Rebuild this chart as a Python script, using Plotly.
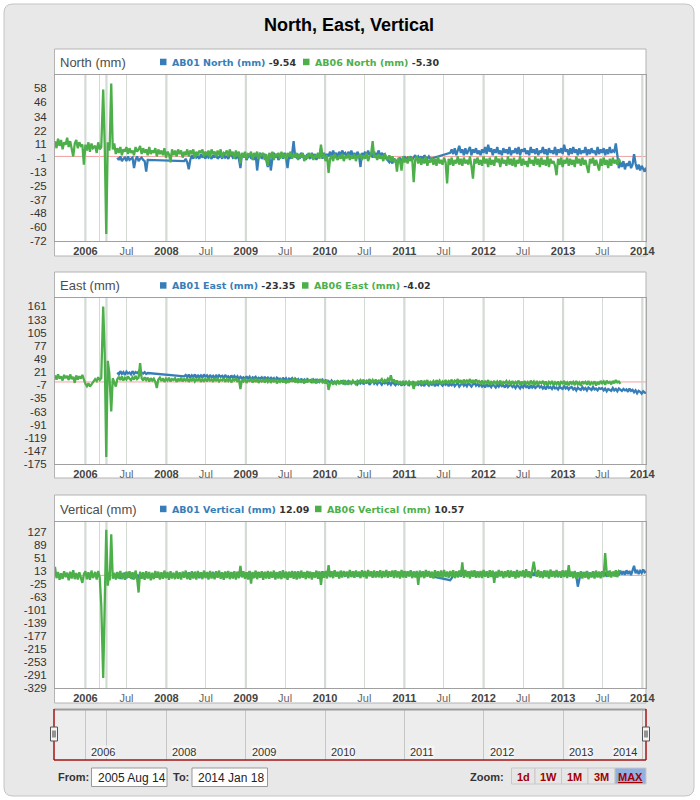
import pandas as pd
import plotly.graph_objects as go

# ---------------- data (weekly readings, mm) ----------------
START_DATE = "2005-08-14"
END_DATE = "2014-01-18"
SAMPLE_EVERY = "7D"
DATA_GAPS = [["2006-02-10", "2006-06-06"], ["2006-07-15", "2006-12-14"], ["2007-01-15", "2007-04-14"]]
N = None

north_ab06 = [13, 7, 15, 9, 14, 6, 12, 10, 16, 8, 13, 5, 0, 11, 14, 7, 12, 9, 10, -7,
              10, 5, 12, 4, 11, 7, 9, 3, 12, 6, 8, 57, 10, -66, 12, 5, 9, 62, 6, 11,
              2, 7, 3, 8, 1, 6, 4, 8, 2, 7, 3, 5, 1, 8, 4, 6, 9, 2, 7, 3,
              6, 1, 8, 2, 5, 3, 7, 0, 6, 2, 5, 1, 7, -1, 4, 2, -5, 6, 1, 5,
              0, 6, 2, 5, -1, 4, 1, 6, 0, 5, 2, 6, -1, 4, 1, 5, 3, 6, 0, 4,
              1, 5, -1, 6, 2, 4, 0, 5, 1, 6, -1, 3, 2, 5, 0, 6, 1, 4, -2, 5,
              0, 4, -6, 3, -1, 4, -2, 2, 1, 4, -3, 3, 0, 4, -2, 2, 1, 3, -3, 2,
              -8, 3, -1, 4, -3, 2, 0, 3, -2, 4, -1, 2, -3, 3, 0, 4, -2, 2, -1, 3,
              -3, 2, -1, 3, -4, 1, -2, 3, 0, 2, -3, 1, -1, 3, -2, 10, -1, 2, -4, 1,
              -14, -2, 1, -4, 2, -1, -3, 1, -2, 2, -4, 0, -1, 2, -3, 1, -2, 2, -4, 1,
              -1, 2, -3, 1, -2, 3, -4, 0, 2, 13, -1, 1, -3, 2, -2, 1, -4, 2, 0, -3,
              1, -4, 0, -5, -2, -13, -1, -4, -12, 0, -5, -2, -6, 0, -4, -1, -22, -3, 0, -6,
              -1, -7, -2, -6, 0, -8, -3, -5, -1, -7, -2, -8, 0, -6, -3, -7, -1, -5, -23, -2,
              -7, -1, -8, -3, -6, 0, -7, -2, -8, -1, -6, -3, -7, 0, -8, -19, -2, -6, -1, -7,
              -3, -8, 0, -6, -2, -9, -1, -7, -3, -8, 0, -5, -2, -9, -1, -6, -3, -8, 0, -7,
              -2, -8, -1, -9, -3, -6, 0, -8, -2, -7, -4, -9, -1, -6, -3, -8, 0, -7, -2, -9,
              -1, -7, -3, -8, 0, -9, -2, -6, -4, -8, -16, -2, -7, -1, -9, -3, -6, -1, -8, -2,
              -7, -3, -9, 0, -6, -2, -8, -1, -7, -3, -9, -14, -2, -6, -1, -8, -3, -7, -12, -2,
              -8, -1, -7, -3, -10, -2, -8, -1, -6, -3, -7, -2, -5.30]
north_ab01 = [-1, -3, 0, -4, -2, -1, -4, 0, -3, -2, -1, -10, -3, 0, -4, -2, -1, -3, -4,
              -13, -3, N, N, N, N, N, N, N, N, N, N, N, N, N, N, N, N, N, N,
              N, N, N, N, N, -4, -2, -5, -11, -3, 1, -2, 2, -1, 0, -2, 2, -1, 1, -2,
              2, -1, 0, -2, 1, -1, 2, -2, 0, 1, -2, 2, -1, 0, -2, 1, 2, -1, 0, -2,
              1, -2, -10, 2, -1, 3, -3, 0, 2, -2, 1, -3, 2, -12, -1, 3, -2, 0, 2, -3,
              -9, 1, -12, -2, 3, -1, 2, -3, 0, 2, -2, 3, -1, -10, 1, -2, 2, 13, 0, -1,
              2, -2, 3, -1, 1, -3, 2, 0, -2, 3, -1, 2, -3, 1, 0, 7, -2, 3, -1, 2,
              0, 4, -1, 5, 1, 3, -1, 4, 0, 5, 2, 3, -1, 4, 1, 5, 0, 3, -1, 4,
              1, -9, 3, 0, 4, -1, 5, 1, 3, -1, 4, 0, 2, 5, -1, 3, 1, 2, -2, -4,
              -5, -3, -6, -2, -4, -5, -3, -1, -4, -2, 0, -3, -1, -2, 0, -3, -1, 1, -2, 0,
              -2, 0, -3, 1, -1, -2, 0, -2, N, N, N, N, N, N, N, N, N, N, N, N,
              3, 6, 2, 7, 1, 5, 9, 3, 6, 1, 7, 2, 5, 8, 1, 6, 3, 7, 2, 5,
              1, 6, 3, 8, 2, 10, 4, 7, 1, 6, 3, 8, 2, 5, 1, 7, 3, 6, 2, 8,
              1, 5, 3, 7, 2, 8, 1, 6, 4, 7, 2, 5, 1, 8, 3, 6, 2, 7, 1, 5,
              3, 8, 2, 6, 1, 7, 3, 5, 2, 8, 1, 6, 3, 7, 2, 10, 4, 6, 1, 7,
              2, 8, 3, 6, 1, 7, 2, 5, 3, 8, 1, 6, 2, 7, 3, 5, 1, 8, 2, 6,
              3, 7, 1, 6, 2, 8, 3, 5, 4, 11, 1, -10, -5, -9, -4, -11, -6, -8, -4, -10,
              -7, 2, -6, -11, -7, -12, -8, -10, -13, -9.54]

east_ab06 = [14, 5, 16, 7, 12, 3, 15, 8, 13, 4, 16, 6, 11, -2, 14, 5, 12, 7, 15, 4,
             -4, -9, -3, -10, -5, -2, 6, 2, 10, 4, 8, 161, 60, -160, 45, 20, 5, -63, 8, 0,
             -10, 6, 11, 4, 12, 3, 9, 5, 12, 7, 4, 10, 5, 13, 6, 9, 40, 8, 3, 10,
             4, 9, 1, 8, 3, 7, 0, -13, 5, 9, 2, 8, 0, 7, 3, 9, 1, 6, 4, 8,
             0, 7, 2, 9, 1, 6, 3, 8, 0, 7, 2, 9, 1, 5, 3, 8, 0, 6, 2, 7,
             1, 8, 3, 6, 0, 9, 2, 7, 1, 5, 3, 8, 0, 6, 2, 7, -1, 5, 3, 8,
             0, 6, -15, 5, 1, 7, -2, 4, 2, 6, -1, 5, 0, 7, -2, 4, 1, 6, -1, 5,
             0, 6, -2, 4, 1, 5, -3, 3, 0, 6, -1, 4, -3, 5, 0, 3, 2, 8, -1, 4,
             -2, 5, 0, 3, -3, 6, -1, 4, 1, 5, -2, 3, -3, 4, 0, 6, -1, 2, -3, 5,
             -17, -4, 2, -6, 0, -3, 3, -5, 1, -2, 4, -4, 0, -6, 2, -3, 3, -1, -5, 2,
             -2, 4, 0, 5, -3, 3, 1, 6, -1, 4, -2, 5, 0, 3, 2, 6, -1, 4, 1, 7,
             2, 14, 0, 5, -2, 3, -4, 1, -6, 2, -3, 0, -5, 1, -4, -1, -15, 0, -6, 2,
             -3, 3, -5, 1, -2, 4, -6, 0, -3, 2, -4, 4, -1, 3, -5, 1, -2, 4, -3, 2,
             -1, 5, -3, 3, 0, 6, -2, 4, -4, 5, -1, 3, 0, 6, -3, 4, -2, 5, 0, 2,
             -3, 3, -5, 1, -2, 4, -6, 0, -3, 2, -5, 1, -4, 3, -6, 0, -2, 2, -5, 1,
             -4, 2, -6, 0, -3, 3, -7, 1, -5, 2, -4, 0, -6, 3, -3, 1, -7, 2, -5, 0,
             -3, 2, -6, 1, -8, 0, -4, 2, -7, -1, -5, 1, -8, 0, -3, 2, -6, -1, -7, 1,
             -4, 0, -7, 2, -5, -1, -8, 1, -3, 0, -6, 2, -7, -1, -4, 1, -8, 0, -5, 2,
             -3, 1, -6, 3, -2, 0, -5, 2, -3, 4, -1, 1, -4.02]
east_ab01 = [20, 16, 23, 17, 21, 15, 22, 18, 20, 16, 23, 17, 21, 19, 22, 16, 20, 18, 21,
             17, 19, N, N, N, N, N, N, N, N, N, N, N, N, N, N, N, N, N, N,
             N, N, N, N, N, 12, 15, 10, 16, 9, 14, 11, 16, 8, 15, 10, 14, 9, 16, 11,
             14, 8, 15, 10, 13, 7, 15, 9, 14, 11, 13, 8, 15, 10, 12, 7, 14, 9, 13, 8,
             12, 6, 11, 8, 10, 5, 12, 7, 11, 4, 10, 8, 11, 5, 9, 7, 10, 4, 11, 6,
             9, 3, 10, 5, 8, 2, 9, 6, 7, 1, 9, 4, 8, 2, 7, 5, 8, 1, 7, 3,
             6, 0, 7, 2, 5, -1, 6, 3, 4, -2, 5, 1, 6, -1, 4, 2, 5, -2, 3, 0,
             2, -3, 3, -1, 1, -4, 2, 0, -2, 3, -5, 1, -3, 2, -1, -4, 1, -2, 0, -5,
             1, -3, 2, -5, 0, -2, 1, -6, -1, 2, -4, 0, -5, 1, -2, -6, 0, -3, 1, -5,
             -1, -6, 0, -4, -7, -2, -5, -1, -8, -3, -6, 0, -4, -7, -2, -5, -1, -8, -3, -6,
             -2, -7, -4, -9, -1, -5, -8, -3, -6, -2, -9, -4, -7, -1, -5, -8, -3, -6, -2, -9,
             -4, -7, -2, -9, -5, -3, -10, -6, -2, -8, -4, -9, -3, -6, -10, -5, -2, -8, -4, -9,
             -5, -10, -6, -12, -4, -9, -7, -11, -5, -8, -12, -6, -10, -4, -9, -7, -12, -5, -11, -8,
             -6, -11, -8, -13, -7, -10, -14, -8, -12, -6, -11, -9, -14, -7, -12, -8, -13, -10, -7, -12,
             -9, -14, -10, -16, -8, -13, -11, -15, -9, -14, -12, -16, -10, -13, -15, -9, -14, -11, -16, -12,
             -11, -16, -13, -18, -12, -15, -17, -11, -16, -13, -18, -12, -15, -17, -11, -16, -14, -18, -13, -15,
             -13, -18, -14, -20, -15, -17, -19, -13, -18, -15, -20, -14, -17, -19, -15, -18, -16, -21, -14, -19,
             -17, -22, -18, -24, -19, -21, -25, -20, -23, -23.35]

vertical_ab06 = [25, -8, 10, -13, 6, -10, 12, -5, 8, -14, 11, -9, 15, -11, 7, -12, 9, -6, -22, 4,
                 12, -11, 9, -13, 14, -8, 10, -12, 13, -6, -85, -300, -40, 133, -30, 10, -15, 120, -10, 8,
                 -12, 10, -9, 13, -11, 8, -13, 11, -7, 12, -10, 9, -12, 14, -8, -50, 11, -10, 9, -13,
                 12, -9, 10, -14, 8, -11, 13, -7, 11, -12, 9, -10, 14, -8, 10, -13, 12, -9, 8, -11,
                 13, -10, 9, -12, 11, -7, 14, -11, 8, -13, 12, -9, 10, -12, 13, -6, 9, -11, 14, -8,
                 10, -12, 13, -9, 8, -11, 12, -7, 14, -10, 9, -13, 11, -8, 13, -11, 10, -9, 12, -12,
                 11, -8, 28, -6, 12, -10, 9, -12, 13, -24, 10, -8, 14, -11, 9, -7, 12, -13, 11, -9,
                 13, -10, 10, -7, 14, -12, 9, -9, 12, -11, 15, -8, 10, -13, 11, -6, 13, -10, 9, -12,
                 12, -9, 14, -7, 10, -11, 13, -8, 11, -12, 9, -6, 14, -10, 12, -28, 10, -7, 13, -9,
                 30, -5, 12, -8, 15, -4, 11, -9, 14, -6, 13, -3, 10, -8, 16, -5, 12, -7, 14, -4,
                 11, -8, 15, -5, 13, -9, 16, -3, 12, -7, 14, -6, 11, -4, 15, -8, 13, -5, 16, -7,
                 12, -4, 14, -8, 15, -6, 11, -9, 16, -5, 13, -7, 12, -3, 15, -8, 10, -6, 13, -28,
                 14, -5, 12, -8, 16, -4, 13, -7, 11, -9, 15, -3, 12, -6, 14, -8, 16, -5, 11, -7,
                 13, -4, 15, -8, 12, -6, 14, -3, 38, -7, 16, -5, 12, -9, 14, -4, 15, -7, 11, -6,
                 13, -8, 16, -4, 12, -7, 15, -5, 14, -22, 11, -6, 16, -3, 13, -8, 12, -5, 15, -7,
                 14, -4, 12, -9, 16, -6, 13, -3, 15, -7, 18, -5, 12, -8, 14, 40, 13, -4, 16, -6,
                 12, -8, 15, -5, 14, -9, 17, -4, 13, -6, 16, -3, 12, -7, 15, -5, 14, -8, 30, -4,
                 11, -8, 13, -10, 9, -6, 12, -9, 10, -7, 13, -11, 8, -5, 12, -9, 14, -6, 10, -8,
                 12, -5, 65, 8, -4, 14, -6, 11, -3, 15, -5, 13, 10.57]
vertical_ab01 = [-8, 6, -10, 4, -7, 8, -9, 3, -6, 7, -11, 5, -8, 2, -10, 6, -7, 4, -9,
                 2, -5, N, N, N, N, N, N, N, N, N, N, N, N, N, N, N, N, N, N,
                 N, N, N, N, N, 0, 7, -6, 9, -4, 8, -7, 10, -3, 6, -8, 9, -5, 7, -2,
                 9, -6, 8, -3, 10, -7, 6, -4, 9, -2, 7, -6, 10, -5, 8, -3, 9, -7, 6, -1,
                 8, -5, 10, -2, 7, -6, 9, -3, 11, -4, 6, -7, 8, -1, 10, -5, 7, -3, 9, -6,
                 8, -2, 10, -5, 7, -1, 9, -6, 11, -3, 8, -4, 10, -2, 7, -6, 9, -1, 11, -4,
                 7, -3, 10, -5, 8, -1, 11, -4, 9, -2, 7, -6, 10, -3, 8, -1, 12, -5, 9, -2,
                 10, -4, 8, -1, 12, -3, 9, -5, 11, 0, 8, -4, 10, -2, 12, -3, 9, -1, 11, -4,
                 8, -2, 12, -1, 10, -4, 9, 0, 11, -3, 8, -2, 12, -5, 10, -1, 9, -3, 11, 0,
                 10, -4, 12, -1, 9, -3, 11, 0, 8, -5, 12, -2, 10, -1, 9, -4, 11, -2, 10, -3,
                 9, -1, 11, -3, 10, 0, 12, -2, N, N, N, N, N, N, N, N, N, N, N, N,
                 -14, -8, 6, -3, 10, -1, 8, -4, 11, 0, 9, -2, 12, -3, 10, -1, 8, -5, 11, 0,
                 9, -3, 12, -1, 10, -4, 8, 0, 11, -2, 9, -5, 12, -1, 10, -3, 8, 0, 11, -4,
                 10, -2, 12, -1, 9, -4, 11, 0, 8, -3, 12, -2, 10, -5, 9, -1, 11, -3, 10, 0,
                 8, -4, 11, -2, 10, -6, 9, -1, 12, -3, 8, -5, 10, -2, 11, 0, 9, -4, 10, -1,
                 8, -3, 11, -2, -33, -5, 10, -1, 9, -4, 12, -2, 8, -5, 11, -1, 9, -3, 10, -2,
                 11, -1, 9, -4, 12, -2, 8, 0, 10, -3, 11, 1, 14, 3, 12, 2, 15, 4, 13, 1,
                 14, 28, 6, 16, 4, 13, 7, 17, 9, 12.09]

panel_titles = ["North (mm)", "East (mm)", "Vertical (mm)"]
ab01_names = ["AB01 North (mm)", "AB01 East (mm)", "AB01 Vertical (mm)"]
ab06_names = ["AB06 North (mm)", "AB06 East (mm)", "AB06 Vertical (mm)"]

x_tick_dates = ["2006-01-01", "2006-07-01", "2007-01-01", "2007-07-01", "2008-01-01", "2008-07-01",
                "2009-01-01", "2009-07-01", "2010-01-01", "2010-07-01", "2011-01-01", "2011-07-01",
                "2012-01-01", "2012-07-01", "2013-01-01", "2013-07-01", "2014-01-01"]
x_tick_labels = ["2006", "", "", "Jul", "2008", "Jul", "2009", "Jul", "2010", "Jul", "2011", "Jul",
                 "2012", "Jul", "2013", "Jul", "2014"]
year_dates = ["2006-01-01", "2007-01-01", "2008-01-01", "2009-01-01", "2010-01-01", "2011-01-01",
              "2012-01-01", "2013-01-01", "2014-01-01"]
nav_labels = ["2006", "", "2008", "2009", "2010", "2011", "2012", "2013", "2014"]

north_ticks = [58, 46, 34, 22, 11, -1, -13, -25, -37, -48, -60, -72]
east_ticks = [161, 133, 105, 77, 49, 21, -7, -35, -63, -91, -119, -147, -175]
vertical_ticks = [127, 89, 51, 13, -25, -63, -101, -139, -177, -215, -253, -291, -329]

from_text = "2005 Aug 14"
to_text = "2014 Jan 18"
zoom_buttons = ["1d", "1W", "1M", "3M", "MAX"]

# ---------------- build ----------------
grid = pd.date_range(START_DATE, END_DATE, freq=SAMPLE_EVERY)
gaps = [(pd.Timestamp(a), pd.Timestamp(b)) for a, b in DATA_GAPS]
dates = [d for d in grid if not any(a <= d <= b for a, b in gaps)]
if dates[-1] != pd.Timestamp(END_DATE):
    dates.append(pd.Timestamp(END_DATE))

BLUE = "#377EB8"
GREEN = "#4DAF4A"
W, H = 700, 800
LW = 2.3


def X(px):
    return px / W


def Y(py):
    return 1 - py / H


fig = go.Figure()

panels = [
    (north_ab01, north_ab06, north_ticks, [-72, 69.3], (75, 241), (49, 256)),
    (east_ab01, east_ab06, east_ticks, [-175, 179], (298, 464), (272, 478)),
    (vertical_ab01, vertical_ab06, vertical_ticks, [-329, 156], (522, 688), (495, 703)),
]

rb = [dict(bounds=g) for g in DATA_GAPS]
x_range = [START_DATE, END_DATE]
tick_text_fmt = [("<span style='color:#666666'>Jul</span>" if t == "Jul" else (f"<b>{t}</b>" if t else ""))
                 for t in x_tick_labels]

shapes = []
annotations = []

x0, y0, x1, y1, r = 4, 4, 694, 796, 9
path = (f"M {X(x0+r)},{Y(y0)} L {X(x1-r)},{Y(y0)} Q {X(x1)},{Y(y0)} {X(x1)},{Y(y0+r)} "
        f"L {X(x1)},{Y(y1-r)} Q {X(x1)},{Y(y1)} {X(x1-r)},{Y(y1)} L {X(x0+r)},{Y(y1)} "
        f"Q {X(x0)},{Y(y1)} {X(x0)},{Y(y1-r)} L {X(x0)},{Y(y0+r)} Q {X(x0)},{Y(y0)} {X(x0+r)},{Y(y0)} Z")
shapes.append(dict(type="path", xref="paper", yref="paper", path=path, fillcolor="#E8E8E8",
                   line=dict(color="#C4C4C4", width=1), layer="below"))

annotations.append(dict(text="<b>North, East, Vertical</b>", x=X(349), y=Y(25), xref="paper", yref="paper",
                        showarrow=False, xanchor="center", yanchor="middle",
                        font=dict(family="Liberation Sans, Arial", size=18, color="#000000")))

legend_pos = [(62, 303), (285.5, 302), (509, 315)]

for k, (b, g, yt, yr, (pt, pb), (bt, bb)) in enumerate(panels):
    n = "" if k == 0 else str(k + 1)
    xa, ya = "x" + n, "y" + n
    fig.add_trace(go.Scatter(x=dates[len(dates) - len(b):], y=b, mode="lines",
                             line=dict(color=BLUE, width=LW), connectgaps=True, xaxis=xa, yaxis=ya,
                             name=ab01_names[k], showlegend=False))
    fig.add_trace(go.Scatter(x=dates[:len(g)], y=g, mode="lines", line=dict(color=GREEN, width=LW),
                             connectgaps=True, xaxis=xa, yaxis=ya, name=ab06_names[k], showlegend=False))
    fig.layout["xaxis" + n] = dict(
        domain=[X(55), X(646)], anchor=ya, type="date", range=x_range, rangebreaks=rb,
        tickmode="array", tickvals=x_tick_dates, ticktext=tick_text_fmt, automargin=False,
        showgrid=True, gridcolor="#D4DAD4", gridwidth=1, ticks="", zeroline=False,
        showline=True, mirror=True, linecolor="#A0A0A0", linewidth=1,
        tickfont=dict(family="Liberation Sans, Arial", size=11, color="#444444"))
    fig.layout["yaxis" + n] = dict(
        domain=[Y(pb), Y(pt)], anchor=xa, range=yr, tickmode="array", tickvals=yt, automargin=False,
        ticktext=[str(t) for t in yt], showgrid=False, zeroline=False, ticks="",
        showline=True, mirror=True, linecolor="#A8A8A8", linewidth=1, ticklabelstandoff=5,
        tickfont=dict(family="Liberation Sans, Arial", size=11.5, color="#333333"))
    shapes.append(dict(type="rect", xref="paper", yref="paper", x0=X(54.5), x1=X(646), y0=Y(bb), y1=Y(bt),
                       fillcolor="white", line=dict(color="#B4B4B4", width=1), layer="below"))
    for yd in year_dates:
        shapes.append(dict(type="line", xref=xa, yref=ya + " domain", x0=yd, x1=yd, y0=0, y1=1,
                           line=dict(color="#D4DAD4", width=2.2), layer="below"))
    shapes.append(dict(type="line", xref=xa + " domain", yref=ya, x0=0, x1=1, y0=0, y1=0,
                       line=dict(color="#F2A0A0", width=1), layer="below"))
    ly, gx = legend_pos[k]
    annotations.append(dict(text=panel_titles[k], x=X(58), y=Y(ly), xref="paper", yref="paper",
                            showarrow=False, xanchor="left", yanchor="middle",
                            font=dict(family="Liberation Sans, Arial", size=13, color="#4D4D4D")))
    for sx, col, nm, vals in [(160, BLUE, ab01_names[k], b), (gx, GREEN, ab06_names[k], g)]:
        shapes.append(dict(type="rect", xref="paper", yref="paper", x0=X(sx), x1=X(sx + 6.5),
                           y0=Y(ly + 3.2), y1=Y(ly - 3.3), fillcolor=col, line=dict(width=0)))
        annotations.append(dict(text=f"<b><span style='color:{col}'>{nm}</span> {vals[-1]:.2f}</b>",
                                x=X(sx + 10), y=Y(ly), xref="paper", yref="paper", showarrow=False,
                                xanchor="left", yanchor="middle",
                                font=dict(family="DejaVu Sans, Verdana", size=9.5, color="#333333")))

# ---------------- navigator ----------------
fig.add_trace(go.Scatter(x=[dates[0]], y=[0.5], mode="markers", marker=dict(opacity=0), xaxis="x4",
                         yaxis="y4", showlegend=False, hoverinfo="skip"))
fig.layout["xaxis4"] = dict(
    domain=[X(55), X(646)], anchor="y4", type="date", range=x_range, rangebreaks=rb, automargin=False,
    tickmode="array", tickvals=year_dates, ticktext=[""] * len(year_dates), showgrid=True,
    gridcolor="#C6C6C6", gridwidth=1, ticks="", zeroline=False, showline=False, showticklabels=False)
fig.layout["yaxis4"] = dict(domain=[Y(760), Y(710)], anchor="x4", range=[0, 1], visible=False,
                            automargin=False)
for yd, lab in zip(year_dates, nav_labels):
    if not lab:
        continue
    last = yd == year_dates[-1]
    annotations.append(dict(text=lab, x=yd, xref="x4", y=Y(751.5), yref="paper", showarrow=False,
                            xanchor="right" if last else "left", xshift=-4 if last else 5,
                            yanchor="middle", bgcolor="rgba(248,248,248,0.7)", borderpad=0,
                            font=dict(family="Liberation Sans, Arial", size=11, color="#333333")))
shapes.append(dict(type="rect", xref="paper", yref="paper", x0=X(54), x1=X(646), y0=Y(760), y1=Y(709),
                   fillcolor="#EDEDED", line=dict(width=0), layer="below"))
shapes.append(dict(type="line", xref="paper", yref="paper", x0=X(54), x1=X(646), y0=Y(709.5), y1=Y(709.5),
                   line=dict(color="#9C9C9C", width=2)))
for (ax0, ay0, ax1, ay1) in [(54, 709, 54, 760), (54, 760, 646, 760), (646, 709, 646, 760)]:
    shapes.append(dict(type="line", xref="paper", yref="paper", x0=X(ax0), x1=X(ax1), y0=Y(ay0), y1=Y(ay1),
                       line=dict(color="#A31515", width=1.5)))
for hx in (54, 646):
    shapes.append(dict(type="rect", xref="paper", yref="paper", x0=X(hx - 3.5), x1=X(hx + 3.5),
                       y0=Y(741), y1=Y(727), fillcolor="#F4F4F4", line=dict(color="#555555", width=1)))
    for lx in (hx - 1, hx + 1):
        shapes.append(dict(type="line", xref="paper", yref="paper", x0=X(lx), x1=X(lx), y0=Y(737.5),
                           y1=Y(730.5), line=dict(color="#333333", width=1)))

# ---------------- range inputs & zoom buttons ----------------
lbl_font = dict(family="Liberation Sans, Arial", size=11, color="#333333")
annotations.append(dict(text="<b>From:</b>", x=X(56), y=Y(777), xref="paper", yref="paper", showarrow=False,
                        xanchor="left", yanchor="middle", font=lbl_font))
annotations.append(dict(text="<b>To:</b>", x=X(171), y=Y(777), xref="paper", yref="paper", showarrow=False,
                        xanchor="left", yanchor="middle", font=lbl_font))
for bx0, bx1, txt in [(91.5, 167, from_text), (192, 267.5, to_text)]:
    shapes.append(dict(type="rect", xref="paper", yref="paper", x0=X(bx0), x1=X(bx1), y0=Y(786.5), y1=Y(768),
                       fillcolor="white", line=dict(color="#999999", width=1)))
    annotations.append(dict(text=txt, x=X(bx0 + 4), y=Y(777.5), xref="paper", yref="paper", showarrow=False,
                            xanchor="left", yanchor="middle",
                            font=dict(family="Liberation Sans, Arial", size=12, color="#222222")))
annotations.append(dict(text="<b>Zoom:</b>", x=X(506), y=Y(776.5), xref="paper", yref="paper",
                        showarrow=False, xanchor="right", yanchor="middle", font=lbl_font))
btn_edges = [511.5, 535, 561.5, 588, 615, 646]
for i, lab in enumerate(zoom_buttons):
    sel = lab == "MAX"
    shapes.append(dict(type="rect", xref="paper", yref="paper", x0=X(btn_edges[i]), x1=X(btn_edges[i + 1]),
                       y0=Y(784), y1=Y(768), fillcolor="#92B0E0" if sel else "#E6E6E6",
                       line=dict(color="#C8C8C8", width=1)))
    annotations.append(dict(text=f"<b><u>{lab}</u></b>" if sel else f"<b>{lab}</b>",
                            x=X((btn_edges[i] + btn_edges[i + 1]) / 2), y=Y(776.5), xref="paper",
                            yref="paper", showarrow=False, xanchor="center", yanchor="middle",
                            font=dict(family="Liberation Sans, Arial", size=11, color="#A00000")))

fig.update_layout(width=W, height=H, margin=dict(l=0, r=0, t=0, b=0, autoexpand=False),
                  paper_bgcolor="white", plot_bgcolor="rgba(0,0,0,0)", shapes=shapes,
                  annotations=annotations, showlegend=False, hovermode=False)
fig.write_html("out.html", config={"displayModeBar": False, "responsive": False},
               post_script="document.body.style.margin='0px';document.body.style.overflow='hidden';")
